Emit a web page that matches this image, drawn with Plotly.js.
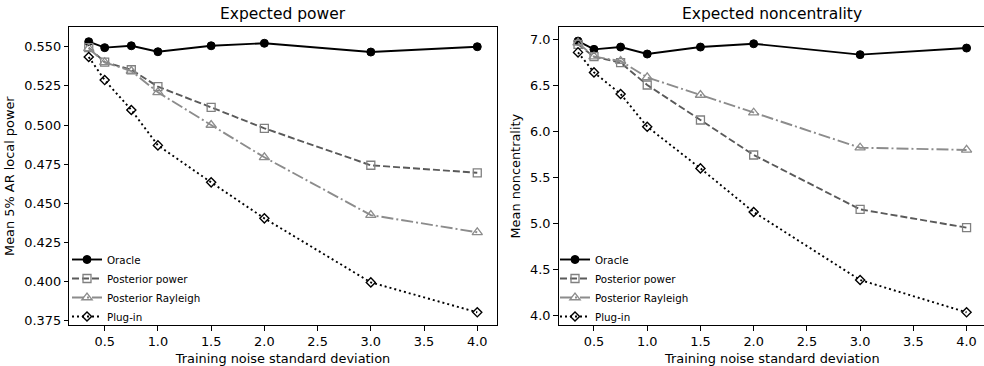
<!DOCTYPE html>
<html>
<head>
<meta charset="utf-8">
<script src="https://cdn.plot.ly/plotly-3.0.1.min.js"></script>
<style>
html,body{margin:0;padding:0;overflow:hidden;background:#fff;}
#chart{width:990px;height:366px;}
</style>
</head>
<body>
<div id="chart"></div>
<script>
// ---- data ----
const noiseSD = [0.35, 0.5, 0.75, 1.0, 1.5, 2.0, 3.0, 4.0];
const seriesNames = ["Oracle", "Posterior power", "Posterior Rayleigh", "Plug-in"];

const powerOracle    = [0.5532, 0.5494, 0.5506, 0.5468, 0.5506, 0.5522, 0.5466, 0.5500];
const powerPostPower = [0.5494, 0.5402, 0.5353, 0.5245, 0.5113, 0.4979, 0.4743, 0.4695];
const powerPostRay   = [0.5490, 0.5400, 0.5345, 0.5209, 0.5000, 0.4794, 0.4425, 0.4315];
const powerPlugIn    = [0.5434, 0.5287, 0.5096, 0.4870, 0.4634, 0.4404, 0.3995, 0.3804];

const ncOracle    = [6.985, 6.895, 6.920, 6.844, 6.920, 6.956, 6.837, 6.909];
const ncPostPower = [6.950, 6.815, 6.750, 6.507, 6.126, 5.745, 5.153, 4.954];
const ncPostRay   = [6.967, 6.815, 6.768, 6.590, 6.398, 6.205, 5.824, 5.800];
const ncPlugIn    = [6.862, 6.644, 6.409, 6.053, 5.599, 5.124, 4.384, 4.032];

const xTickVals = [0.5, 1.0, 1.5, 2.0, 2.5, 3.0, 3.5, 4.0];
const powerTickVals = [0.375, 0.400, 0.425, 0.450, 0.475, 0.500, 0.525, 0.550];
const ncTickVals = [4.0, 4.5, 5.0, 5.5, 6.0, 6.5, 7.0];

// ---- styles ----
const FONT = "DejaVu Sans, Verdana, sans-serif";
const styles = [
  {line:{color:"#000000", width:1.9, dash:"solid"},
   marker:{symbol:"circle", size:8, color:"#000000", line:{color:"#000000", width:1}}},
  {line:{color:"#5a5a5a", width:1.9, dash:"7px,3px"},
   marker:{symbol:"square-open", size:8, color:"#808080", line:{color:"#808080", width:1.3}}},
  {line:{color:"#8c8c8c", width:1.9, dash:"12px,3px,2px,3px"},
   marker:{symbol:"triangle-up-open", size:9, color:"#8c8c8c", line:{color:"#8c8c8c", width:1.3}}},
  {line:{color:"#000000", width:1.9, dash:"2px,3px"},
   marker:{symbol:"diamond-open", size:7, color:"#000000", line:{color:"#000000", width:1.4}}}
];

function makeTraces(ys, xa, ya, leg) {
  return ys.map((y, i) => ({
    type: "scatter", mode: "lines+markers",
    x: noiseSD, y: y, name: seriesNames[i],
    xaxis: xa, yaxis: ya, legend: leg,
    line: styles[i].line, marker: styles[i].marker,
    showlegend: true
  }));
}

const traces = [].concat(
  makeTraces([powerOracle, powerPostPower, powerPostRay, powerPlugIn], "x", "y", "legend"),
  makeTraces([ncOracle, ncPostPower, ncPostRay, ncPlugIn], "x2", "y2", "legend2")
);

const W = 990, H = 366;
const axCommon = {
  showgrid:false, zeroline:false, showline:true, mirror:true,
  linecolor:"#000", linewidth:1, ticks:"outside", ticklen:4.5, tickwidth:1,
  tickcolor:"#000", tickfont:{family:FONT, size:12.9, color:"#000"}
};
const titleFont = {family:FONT, size:12.9, color:"#000"};
const legendBottom = 331;

const layout = {
  width: W, height: H,
  margin:{l:0, r:0, t:0, b:0},
  paper_bgcolor:"#fff", plot_bgcolor:"#fff",
  font:{family:FONT, color:"#000"},
  xaxis: Object.assign({}, axCommon, {
    domain:[69.3/W, 496.7/W], range:[0.1675, 4.1825], anchor:"y",
    tickvals:xTickVals, tickformat:".1f",
    title:{text:"Training noise standard deviation", font:titleFont, standoff:5}
  }),
  yaxis: Object.assign({}, axCommon, {
    domain:[41/H, (H-27.3)/H], range:[0.3723, 0.5624], anchor:"x",
    tickvals:powerTickVals, tickformat:".3f",
    title:{text:"Mean 5% AR local power", font:titleFont, standoff:6}
  }),
  xaxis2: Object.assign({}, axCommon, {
    domain:[558.6/W, 986/W], range:[0.1675, 4.1825], anchor:"y2",
    tickvals:xTickVals, tickformat:".1f",
    title:{text:"Training noise standard deviation", font:titleFont, standoff:5}
  }),
  yaxis2: Object.assign({}, axCommon, {
    domain:[41/H, (H-27.3)/H], range:[3.894, 7.135], anchor:"x2",
    tickvals:ncTickVals, tickformat:".1f",
    title:{text:"Mean noncentrality", font:titleFont, standoff:6}
  }),
  legend: {
    x:(67/W), y:(H-legendBottom)/H, xanchor:"left", yanchor:"bottom",
    bgcolor:"rgba(0,0,0,0)", borderwidth:0,
    font:{family:FONT, size:10.3, color:"#000"}, tracegroupgap:0
  },
  legend2: {
    x:(555/W), y:(H-legendBottom)/H, xanchor:"left", yanchor:"bottom",
    bgcolor:"rgba(0,0,0,0)", borderwidth:0,
    font:{family:FONT, size:10.3, color:"#000"}, tracegroupgap:0
  },
  annotations:[
    {text:"Expected power", xref:"paper", yref:"paper",
     x:283/W, y:(H-14.5)/H, xanchor:"center", yanchor:"middle", showarrow:false,
     font:{family:FONT, size:15.5, color:"#000"}},
    {text:"Expected noncentrality", xref:"paper", yref:"paper",
     x:772/W, y:(H-14.5)/H, xanchor:"center", yanchor:"middle", showarrow:false,
     font:{family:FONT, size:15.5, color:"#000"}}
  ]
};

Plotly.newPlot("chart", traces, layout, {staticPlot:true, displayModeBar:false});
</script>
</body>
</html>
